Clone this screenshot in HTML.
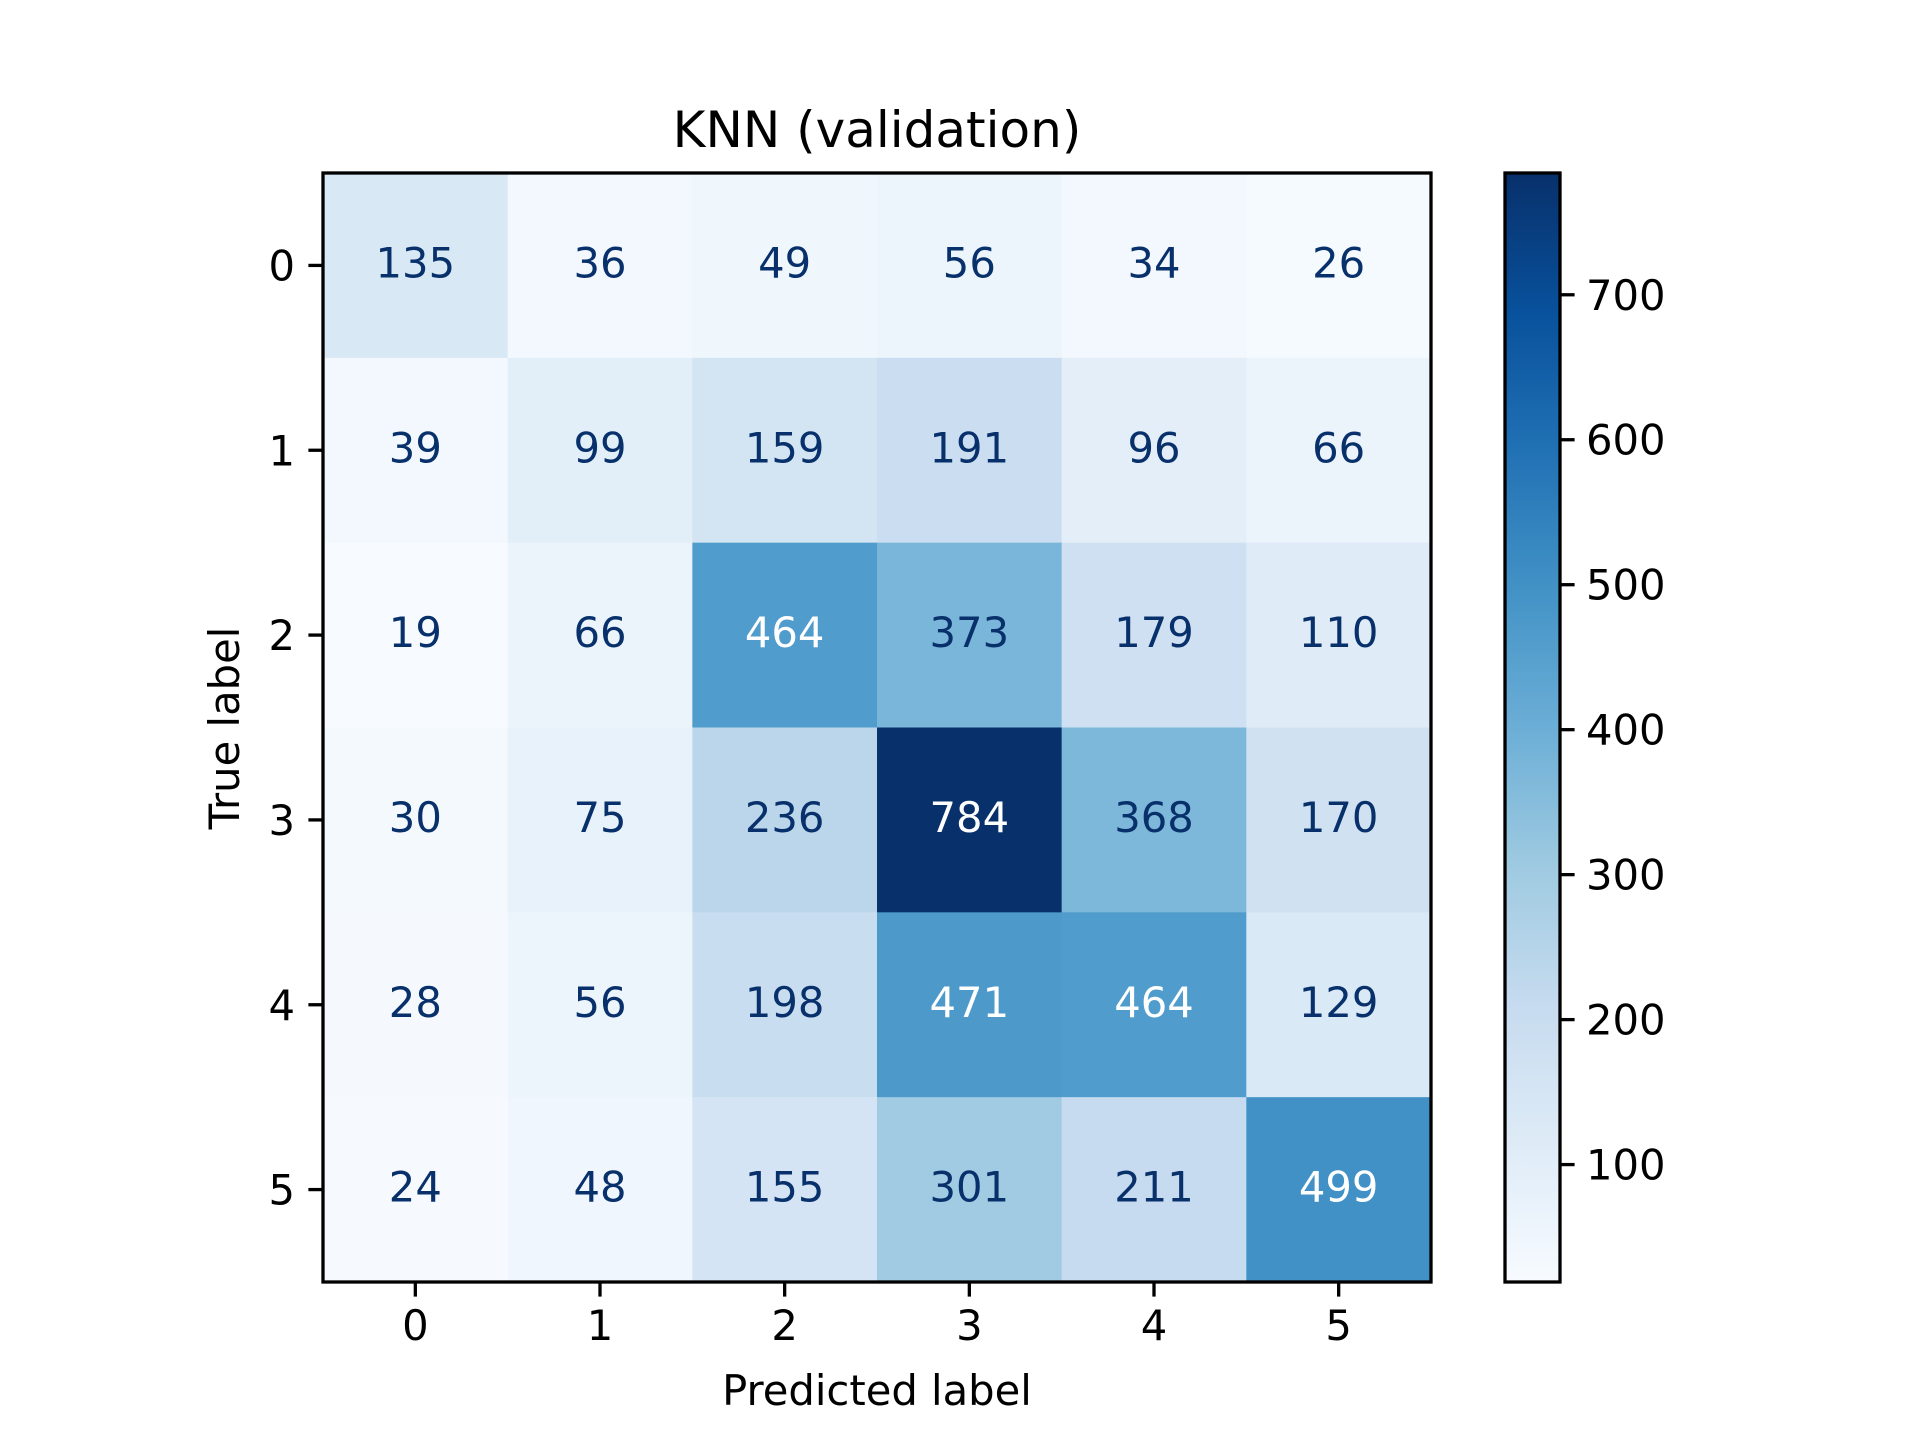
<!DOCTYPE html>
<html><head><meta charset="utf-8"><style>
html,body{margin:0;padding:0;background:#fff;}
svg{display:block;font-family:"DejaVu Sans","Liberation Sans",sans-serif;}
</style></head><body>
<svg id="chart" width="1920" height="1440" viewBox="0 0 1920 1440" xmlns="http://www.w3.org/2000/svg">
<rect width="1920" height="1440" fill="#fff"/>
<text x="877" y="147" font-size="50" text-anchor="middle" fill="#000">KNN (validation)</text>
<text x="877" y="1405" font-size="41.7" text-anchor="middle" fill="#000">Predicted label</text>
<text transform="translate(239,728) rotate(-90)" font-size="41.7" text-anchor="middle" fill="#000">True label</text>
<g id="cells"></g><g id="ann"></g><g id="axes"></g><g id="cbar"></g>
</svg>
<script>
const categories = ["0","1","2","3","4","5"];
const row0 = [135,36,49,56,34,26];
const row1 = [39,99,159,191,96,66];
const row2 = [19,66,464,373,179,110];
const row3 = [30,75,236,784,368,170];
const row4 = [28,56,198,471,464,129];
const row5 = [24,48,155,301,211,499];
const matrix = [row0,row1,row2,row3,row4,row5];
const cbarTicks = [100,200,300,400,500,600,700];

const NS="http://www.w3.org/2000/svg";
const L=323,T=173,W=1108,H=1109;
const flat=matrix.flat();
const vmin=Math.min(...flat), vmax=Math.max(...flat);
const stops=["#f7fbff","#deebf7","#c6dbef","#9ecae1","#6baed6","#4292c6","#2171b5","#08519c","#08306b"].map(h=>[parseInt(h.slice(1,3),16),parseInt(h.slice(3,5),16),parseInt(h.slice(5,7),16)]);
function cmap(t){t=Math.max(0,Math.min(1,t));const p=t*8,i=Math.min(7,Math.floor(p)),f=p-i;const a=stops[i],b=stops[i+1];return `rgb(${a.map((v,k)=>Math.round(v+(b[k]-v)*f)).join(",")})`;}
const n=categories.length, cw=W/n, ch=H/n;
const xS=i=>L+cw*(i+0.5), yS=j=>T+ch*(j+0.5);
function el(tag,attrs,parent){const e=document.createElementNS(NS,tag);for(const k in attrs)e.setAttribute(k,attrs[k]);parent.appendChild(e);return e;}
const cells=document.getElementById('cells'),ann=document.getElementById('ann'),axes=document.getElementById('axes'),cbar=document.getElementById('cbar');
const thresh=(vmin+vmax)/2;
matrix.forEach((row,j)=>row.forEach((v,i)=>{
  const r=el('rect',{x:L+cw*i,y:T+ch*j,width:cw+0.5,height:ch+0.5,fill:cmap((v-vmin)/(vmax-vmin))},cells);
  
  
  const t=el('text',{x:xS(i),y:yS(j)+12,'font-size':41.7,'text-anchor':'middle',fill:v>thresh?'#ffffff':'#08306b'},ann);
  t.textContent=v;
  
  
}));
const frame=el('rect',{x:L,y:T,width:W,height:H,fill:'none',stroke:'#000','stroke-width':3.3},axes);


categories.forEach((c,i)=>{
  el('line',{x1:xS(i),x2:xS(i),y1:T+H,y2:T+H+14.6,stroke:'#000','stroke-width':3.3},axes);
  const tx=el('text',{x:xS(i),y:T+H+58,'font-size':41.7,'text-anchor':'middle',fill:'#000'},axes);
  tx.textContent=c;
  
  
  el('line',{x1:L,x2:L-14.6,y1:yS(i),y2:yS(i),stroke:'#000','stroke-width':3.3},axes);
  const ty=el('text',{x:L-28,y:yS(i)+15,'font-size':41.7,'text-anchor':'end',fill:'#000'},axes);
  ty.textContent=c;
  
  
});
const CX=1505,CW=55;
const defs=el('defs',{},cbar);
const g=el('linearGradient',{id:'grad',x1:0,y1:1,x2:0,y2:0},defs);
for(let k=0;k<=8;k++){el('stop',{offset:k/8,'stop-color':cmap(k/8)},g);}
const cb=el('rect',{x:CX,y:T,width:CW,height:H,fill:'url(#grad)',stroke:'#000','stroke-width':3.3},cbar);


const cy=v=>T+H-(v-vmin)/(vmax-vmin)*H;
cbarTicks.forEach(v=>{
  el('line',{x1:CX+CW,x2:CX+CW+14.6,y1:cy(v),y2:cy(v),stroke:'#000','stroke-width':3.3},cbar);
  const t=el('text',{x:CX+CW+26,y:cy(v)+15,'font-size':41.7,fill:'#000'},cbar);
  t.textContent=v;
  
  
});
</script>
</body></html>
